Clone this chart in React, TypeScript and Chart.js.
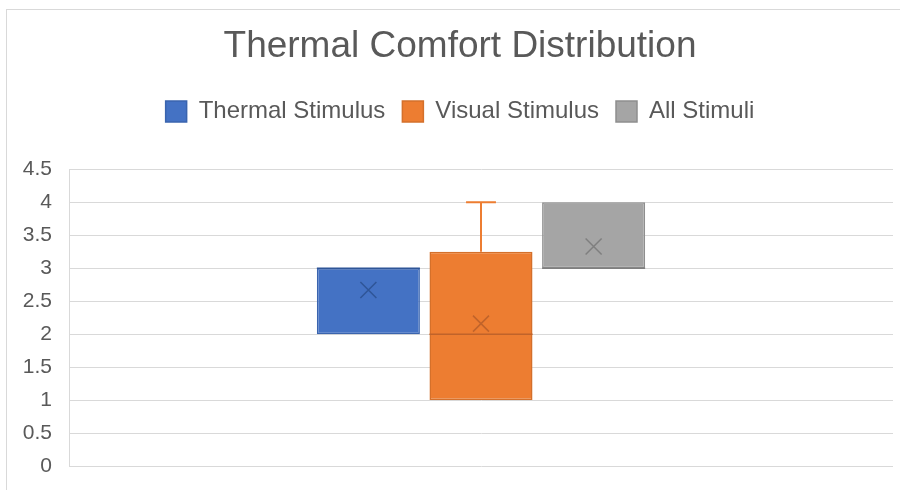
import React, { useEffect, useRef } from "react";
import { Chart, registerables } from "chart.js";

Chart.register(...registerables);

const chartTitle = "Thermal Comfort Distribution";
const categories = [""];
const seriesNames = ["Thermal Stimulus", "Visual Stimulus", "All Stimuli"];
const q1Values = [2, 1, 3];
const q3Values = [3, 3.25, 4];
const medianValues = [3, 2, 3];
const minValues = [2, 1, 3];
const maxValues = [3, 4, 4];
const meanValues = [2.67, 2.16, 3.33];
const yTickValues = [0, 0.5, 1, 1.5, 2, 2.5, 3, 3.5, 4, 4.5];

const fillColors = ["#4472C4", "#ED7D31", "#A5A5A5"];
const borderColors = ["#3A64AE", "#D4702B", "#8E8E8E"];
const markColors = ["#2F5597", "#C0632A", "#7F7F7F"];

const FONT = "'Liberation Sans', Arial, sans-serif";

const boxExtras = {
  id: "boxExtras",
  afterDatasetsDraw(chart: any) {
    const ctx = chart.ctx;
    const y = chart.scales.y;
    chart.data.datasets.forEach((_ds: any, i: number) => {
      const meta = chart.getDatasetMeta(i);
      const bar = meta.data[0];
      if (!bar) return;
      const cx = bar.x;
      const w = bar.width;
      const left = cx - w / 2;
      const right = cx + w / 2;
      const yQ1 = y.getPixelForValue(q1Values[i]);
      const yQ3 = y.getPixelForValue(q3Values[i]);
      const yMin = y.getPixelForValue(minValues[i]);
      const yMax = y.getPixelForValue(maxValues[i]);
      const yMed = y.getPixelForValue(medianValues[i]);
      const yMean = y.getPixelForValue(meanValues[i]);
      const cap = w * 0.145;
      ctx.save();
      ctx.strokeStyle = fillColors[i];
      ctx.lineWidth = 2;
      if (maxValues[i] > q3Values[i]) {
        ctx.beginPath();
        ctx.moveTo(cx, yQ3);
        ctx.lineTo(cx, yMax);
        ctx.moveTo(cx - cap, yMax);
        ctx.lineTo(cx + cap, yMax);
        ctx.stroke();
      }
      if (minValues[i] < q1Values[i]) {
        ctx.beginPath();
        ctx.moveTo(cx, yQ1);
        ctx.lineTo(cx, yMin);
        ctx.moveTo(cx - cap, yMin);
        ctx.lineTo(cx + cap, yMin);
        ctx.stroke();
      }
      ctx.strokeStyle = markColors[i];
      ctx.lineWidth = 1.5;
      ctx.beginPath();
      ctx.moveTo(left, yMed);
      ctx.lineTo(right, yMed);
      ctx.stroke();
      const s = 8;
      ctx.lineWidth = 1.5;
      ctx.beginPath();
      ctx.moveTo(cx - s, yMean - s);
      ctx.lineTo(cx + s, yMean + s);
      ctx.moveTo(cx + s, yMean - s);
      ctx.lineTo(cx - s, yMean + s);
      ctx.stroke();
      ctx.restore();
    });
  },
};

export default function App() {
  const ref = useRef<HTMLCanvasElement | null>(null);
  useEffect(() => {
    if (!ref.current) return;
    const chart = new Chart(ref.current, {
      type: "bar",
      data: {
        labels: categories,
        datasets: seriesNames.map((name, i) => ({
          label: name,
          data: [[q1Values[i], q3Values[i]]] as any,
          backgroundColor: fillColors[i],
          borderColor: borderColors[i],
          borderWidth: 1.5,
          borderSkipped: false,
          categoryPercentage: 0.41,
          barPercentage: 0.915,
        })),
      },
      options: {
        responsive: false,
        animation: false,
        layout: { padding: { left: 0, right: 0, top: 0, bottom: 24 } },
        plugins: {
          title: {
            display: true,
            text: chartTitle,
            color: "#595959",
            font: { family: FONT, size: 37, weight: "normal" as any },
            padding: { top: 25, bottom: 13 },
          },
          legend: {
            display: true,
            position: "top",
            labels: {
              boxWidth: 21,
              boxHeight: 21,
              padding: 17,
              color: "#595959",
              font: { family: FONT, size: 24 },
            },
          },
          subtitle: {
            display: true,
            text: "",
            weight: 500,
            font: { size: 10, lineHeight: 1 },
            padding: { top: 26, bottom: 0 },
          } as any,
          tooltip: { enabled: false },
        },
        scales: {
          x: { display: false, stacked: false },
          y: {
            position: "left",
            min: 0,
            max: 4.5,
            afterBuildTicks: (scale: any) => {
              scale.ticks = yTickValues.map((v) => ({ value: v }));
            },
            afterFit: (scale: any) => {
              scale.width = 69;
              scale.paddingTop = 0;
              scale.paddingBottom = 0;
            },
            ticks: {
              color: "#595959",
              padding: 17,
              font: { family: FONT, size: 21 },
              callback: (v: any) => String(v),
            },
            grid: { color: "#d9d9d9", lineWidth: 1, drawTicks: false },
            border: { display: true, color: "#d9d9d9", width: 1 },
          },
          yRight: {
            position: "right",
            display: true,
            min: 0,
            max: 4.5,
            grid: { display: false, drawTicks: false },
            border: { display: false },
            ticks: { display: false },
            afterFit: (scale: any) => {
              scale.width = 27;
              scale.paddingTop = 0;
              scale.paddingBottom = 0;
            },
          },
        },
      },
      plugins: [boxExtras],
    });
    return () => chart.destroy();
  }, []);
  return (
    <div
      style={{
        position: "fixed",
        left: 0,
        top: 0,
        width: 900,
        height: 490,
        overflow: "hidden",
        background: "#ffffff",
      }}
    >
      <div
        style={{
          position: "absolute",
          left: 6,
          top: 9,
          width: 2000,
          height: 2000,
          border: "1px solid #d9d9d9",
        }}
      />
      <canvas
        ref={ref}
        width={920}
        height={490}
        style={{ position: "absolute", left: 0, top: 0, display: "block" }}
      />
    </div>
  );
}
